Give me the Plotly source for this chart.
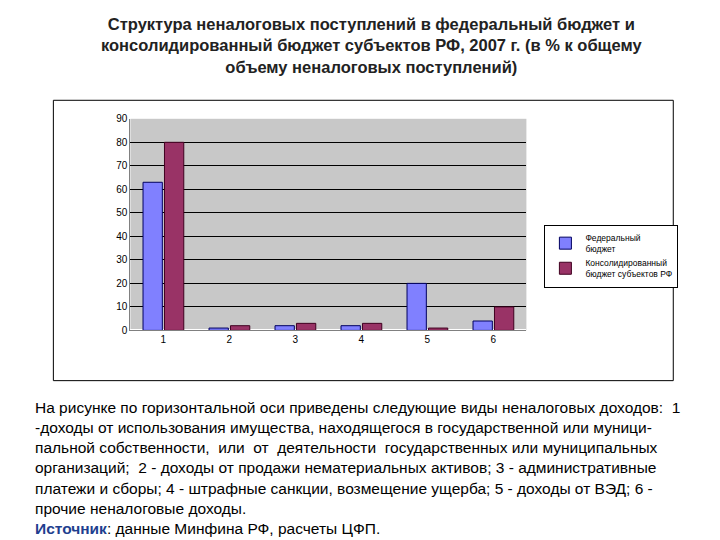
import plotly.graph_objects as go

categories = ["1", "2", "3", "4", "5", "6"]
federal = [63, 1, 2, 2, 20, 4]
consolidated = [80, 2, 3, 3, 1, 10]
y_ticks = [0, 10, 20, 30, 40, 50, 60, 70, 80, 90]

fig = go.Figure()
fig.add_bar(x=categories, y=federal, name="Федеральный<br>бюджет",
            marker=dict(color="#8080FF", line=dict(color="#000060", width=1)))
fig.add_bar(x=categories, y=consolidated, name="Консолидированный<br>бюджет субъектов РФ",
            marker=dict(color="#993366", line=dict(color="#400020", width=1)))

fig.update_layout(
    width=720, height=540, paper_bgcolor="white", plot_bgcolor="#C8C8C8",
    font=dict(family="Liberation Sans, Arial", color="black"),
    margin=dict(l=0, r=0, t=0, b=0),
    barmode="group", bargap=0.35, bargroupgap=0.1,
    xaxis=dict(domain=[0.17, 0.72], tickfont=dict(size=10), showline=True, linecolor="#808080"),
    yaxis=dict(domain=[0.40, 0.80], range=[0, 90], tickvals=y_ticks, tickfont=dict(size=10),
               gridcolor="black", gridwidth=0.5, showline=True, linecolor="#808080"),
    legend=dict(x=0.745, y=0.6, xanchor="left", yanchor="top", font=dict(size=8.5),
                bgcolor="white", bordercolor="black", borderwidth=1),
    shapes=[dict(type="rect", xref="paper", yref="paper", x0=0.063, x1=0.924, y0=0.305, y1=0.835,
                 line=dict(color="black", width=1))],
)

fig.add_annotation(xref="paper", yref="paper", x=0.505, y=1.0, xanchor="center", yanchor="top",
                   showarrow=False, font=dict(size=16.5, color="#222"),
                   text="<b>Структура неналоговых поступлений в федеральный бюджет и<br>"
                        "консолидированный бюджет субъектов РФ, 2007 г. (в % к общему<br>"
                        "объему неналоговых поступлений)</b>")
fig.add_annotation(xref="paper", yref="paper", x=0.035, y=0.275, xanchor="left", yanchor="top",
                   showarrow=False, align="left", font=dict(size=15.5),
                   text="На рисунке по горизонтальной оси приведены следующие виды неналоговых доходов:  1<br>"
                        "-доходы от использования имущества, находящегося в государственной или муници-<br>"
                        "пальной собственности,  или  от  деятельности  государственных или муниципальных<br>"
                        "организаций;  2 - доходы от продажи нематериальных активов; 3 - административные<br>"
                        "платежи и сборы; 4 - штрафные санкции, возмещение ущерба; 5 - доходы от ВЭД; 6 -<br>"
                        "прочие неналоговые доходы.<br>"
                        "<b><span style='color:#1F3F8F'>Источник</span></b>: данные Минфина РФ, расчеты ЦФП.")

fig.write_html("out.html")
